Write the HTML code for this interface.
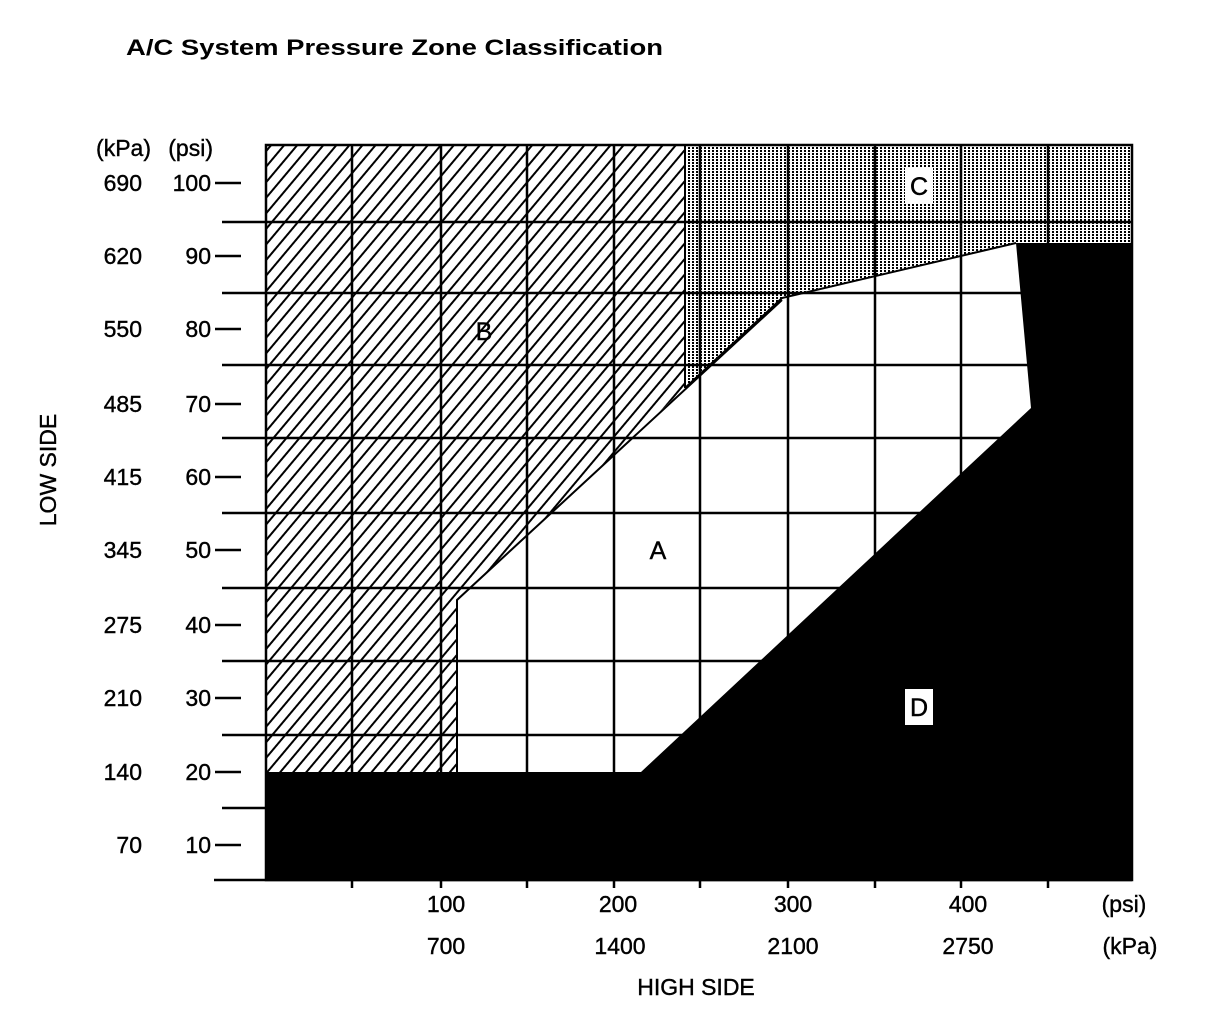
<!DOCTYPE html>
<html><head><meta charset="utf-8"><style>html,body{margin:0;padding:0;background:#fff}</style></head>
<body>
<svg width="1216" height="1020" viewBox="0 0 1216 1020" xmlns="http://www.w3.org/2000/svg" font-family="Liberation Sans, Arial, sans-serif">
<defs>
<pattern id="hatch" width="10" height="10" patternUnits="userSpaceOnUse" patternTransform="rotate(40)">
<rect x="0" y="0" width="2" height="10" fill="#000"/>
</pattern>
<pattern id="dots" width="4" height="3" patternUnits="userSpaceOnUse">
<rect x="0" y="0" width="2" height="2" fill="#000"/>
</pattern>
</defs>
<text x="126" y="55" font-size="22" font-weight="bold" textLength="537" lengthAdjust="spacingAndGlyphs">A/C System Pressure Zone Classification</text>

<polygon points="266,145 685,145 685,388 457,600 457,772 266,772" fill="url(#hatch)"/>
<polygon points="685,145 1132,145 1132,243 1016,243 782,298 685,388" fill="url(#dots)"/>
<polyline points="1016,243 782,298 685,388" fill="none" stroke="#000" stroke-width="2"/>
<polyline points="782,300 457,600 457,772" fill="none" stroke="#000" stroke-width="2"/>
<line x1="685" y1="145" x2="685" y2="388" stroke="#000" stroke-width="2"/>

<g stroke="#000" stroke-width="2.5">
<line x1="352" y1="145" x2="352" y2="888"/>
<line x1="441" y1="145" x2="441" y2="888"/>
<line x1="527" y1="145" x2="527" y2="888"/>
<line x1="614" y1="145" x2="614" y2="888"/>
<line x1="700" y1="145" x2="700" y2="888"/>
<line x1="788" y1="145" x2="788" y2="888"/>
<line x1="875" y1="145" x2="875" y2="888"/>
<line x1="961" y1="145" x2="961" y2="888"/>
<line x1="1048" y1="145" x2="1048" y2="888"/>
<line x1="222" y1="222" x2="1132" y2="222"/>
<line x1="222" y1="293" x2="1132" y2="293"/>
<line x1="222" y1="365" x2="1132" y2="365"/>
<line x1="222" y1="438" x2="1132" y2="438"/>
<line x1="222" y1="513" x2="1132" y2="513"/>
<line x1="222" y1="588" x2="1132" y2="588"/>
<line x1="222" y1="661" x2="1132" y2="661"/>
<line x1="222" y1="735" x2="1132" y2="735"/>
<line x1="222" y1="808" x2="1132" y2="808"/>
<line x1="214" y1="880" x2="1132" y2="880"/>
<rect x="266" y="145" width="866" height="735" fill="none"/>
</g>
<polygon points="266,772 641,772 1031,408 1016,243 1132,243 1132,880 266,880" fill="#000"/>

<g stroke="#000" stroke-width="2.5">
<line x1="215" y1="183" x2="241" y2="183"/>
<line x1="215" y1="256" x2="241" y2="256"/>
<line x1="215" y1="329" x2="241" y2="329"/>
<line x1="215" y1="404" x2="241" y2="404"/>
<line x1="215" y1="477" x2="241" y2="477"/>
<line x1="215" y1="550" x2="241" y2="550"/>
<line x1="215" y1="625" x2="241" y2="625"/>
<line x1="215" y1="698" x2="241" y2="698"/>
<line x1="215" y1="772" x2="241" y2="772"/>
<line x1="215" y1="845" x2="241" y2="845"/>
</g>
<g font-size="23" text-anchor="end" stroke="#000" stroke-width="0.4">
<text x="151" y="156">(kPa)</text><text x="213" y="156">(psi)</text>
<text x="142" y="191">690</text><text x="211" y="191">100</text>
<text x="142" y="264">620</text><text x="211" y="264">90</text>
<text x="142" y="337">550</text><text x="211" y="337">80</text>
<text x="142" y="412">485</text><text x="211" y="412">70</text>
<text x="142" y="485">415</text><text x="211" y="485">60</text>
<text x="142" y="558">345</text><text x="211" y="558">50</text>
<text x="142" y="633">275</text><text x="211" y="633">40</text>
<text x="142" y="706">210</text><text x="211" y="706">30</text>
<text x="142" y="780">140</text><text x="211" y="780">20</text>
<text x="142" y="853">70</text><text x="211" y="853">10</text>
</g>
<g font-size="23" text-anchor="middle" stroke="#000" stroke-width="0.4">
<text x="446" y="912">100</text><text x="618" y="912">200</text><text x="793" y="912">300</text><text x="968" y="912">400</text><text x="1124" y="912">(psi)</text>
<text x="446" y="954">700</text><text x="620" y="954">1400</text><text x="793" y="954">2100</text><text x="968" y="954">2750</text><text x="1130" y="954">(kPa)</text>
<text x="696" y="995">HIGH SIDE</text>
<text transform="translate(56,470) rotate(-90)">LOW SIDE</text>
<text x="658" y="559" font-size="25">A</text>
<text x="484" y="340" font-size="25">B</text>
</g>
<rect x="905" y="168" width="28" height="36" fill="#fff"/>
<text x="919" y="195" font-size="25" text-anchor="middle" stroke="#000" stroke-width="0.5">C</text>
<rect x="905" y="689" width="28" height="36" fill="#fff"/>
<text x="919" y="716" font-size="25" text-anchor="middle" stroke="#000" stroke-width="0.5">D</text>
</svg>
</body></html>
